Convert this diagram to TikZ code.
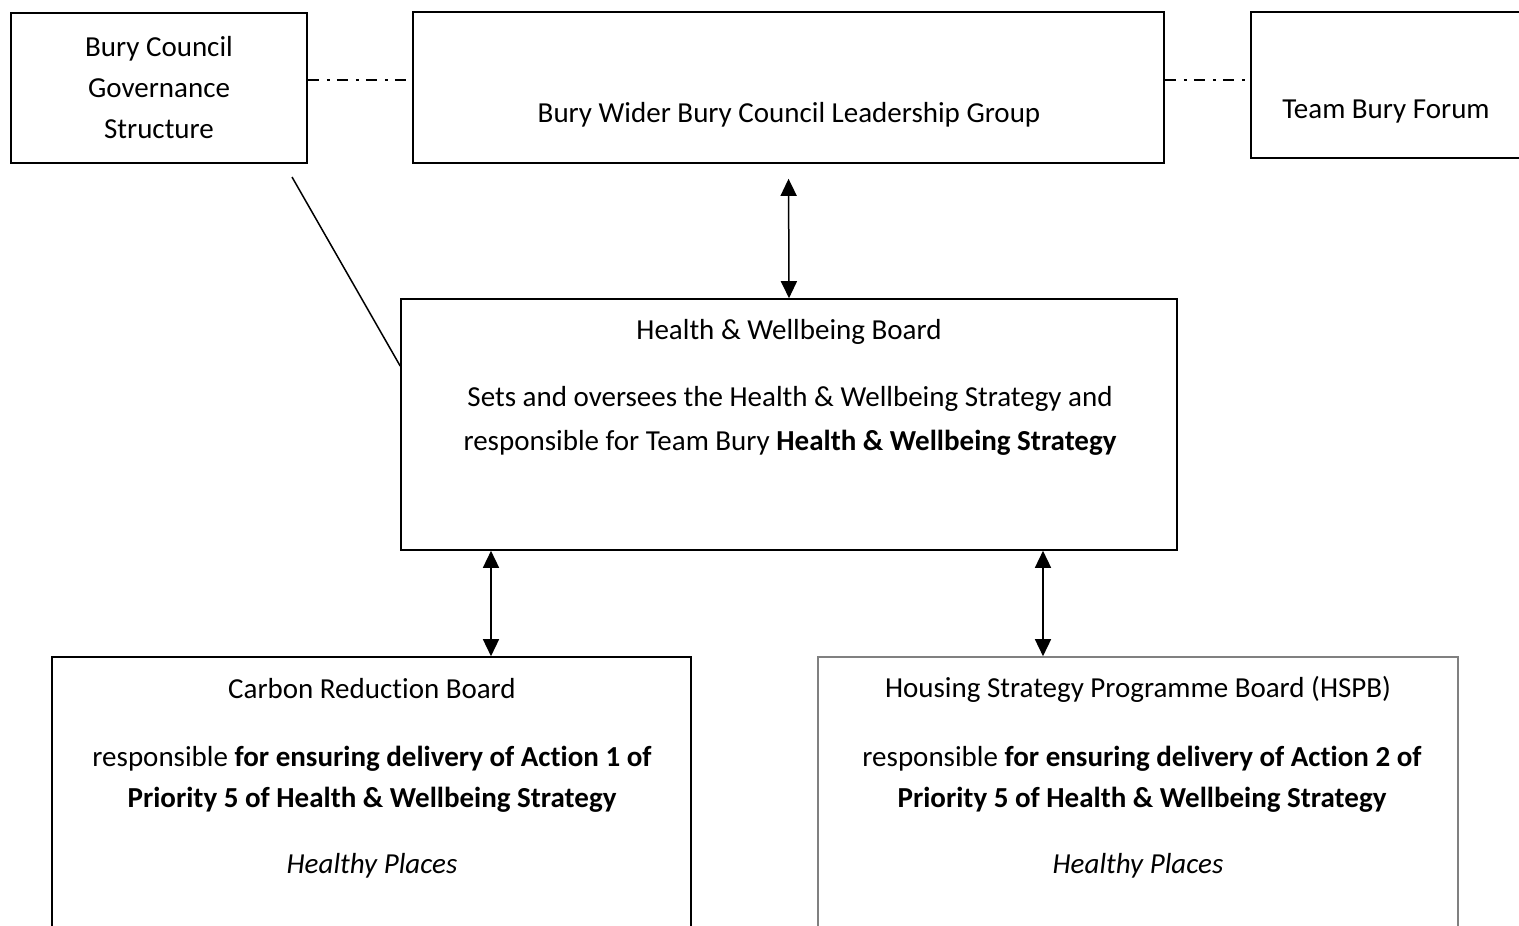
\documentclass[tikz,border=0pt]{standalone}
\usepackage{fontspec}
\setmainfont[Ligatures=NoCommon]{Carlito}
\usetikzlibrary{arrows.meta}

\tikzset{
  box/.style={draw, line width=1.6pt, inner sep=0pt},
  txt/.style={font=\fontsize{29}{41}\selectfont, align=center, inner sep=0pt},
  link/.style={line width=1.6pt, dash pattern=on 11pt off 8pt on 3pt off 7pt},
  both/.style={line width=1.5pt, {Triangle[length=17pt,width=16pt]}-{Triangle[length=17pt,width=16pt]}},
}

\begin{document}
\begin{tikzpicture}[x=1pt,y=-1pt]
    \clip (0,0) rectangle (1519,926);
    % top row
    \node[box, txt, minimum width=296pt, minimum height=150pt] (gov) at (159,88) {Bury Council\\Governance\\Structure};
    \node[box, minimum width=751pt, minimum height=151pt] (lead) at (788.5,87.5) {};
    \node[txt] (lead-txt) at (789,115) {Bury Wider Bury Council Leadership Group};
    \node[box, minimum width=300pt, minimum height=146pt] (team) at (1401,85) {};
    \node[txt] (team-txt) at (1386,112) {Team Bury Forum};
    \draw[link] (gov.east |- 0,80) -- (lead.west |- 0,80);
    \draw[link] (lead.east |- 0,80) -- (team.west |- 0,80);

    % board
    \node[box, minimum width=776pt, minimum height=251pt] (hwb) at (789,424.5) {};
    \node[txt] (hwb-title) at (789,332) {Health \& Wellbeing Board};
    \node[txt, font=\fontsize{29}{44}\selectfont] (hwb-body) at (790,421) {Sets and oversees the Health \& Wellbeing Strategy and\\responsible for Team Bury \textbf{Health \& Wellbeing Strategy}};
    \coordinate (gov-foot) at (292,177);
    \draw[line width=1.5pt] (gov-foot) -- (hwb.west |- 0,366);
    \draw[both, shorten <=15pt] (lead.south) -- (hwb.north);

    % sub boards
    \node[box, minimum width=639pt, minimum height=293pt] (carb) at (371.5,803.5) {};
    \node[txt] (carb-title) at (372,689) {Carbon Reduction Board};
    \node[txt] (carb-body) at (372,779) {responsible \textbf{for ensuring delivery of Action 1 of}\\\textbf{Priority 5 of Health \& Wellbeing Strategy}};
    \node[txt] (carb-tag) at (372,866) {\textit{Healthy Places}};

    \node[box, draw=black!50, minimum width=640pt, minimum height=293pt] (hspb) at (1138,803.5) {};
    \node[txt] (hspb-title) at (1138,689) {Housing Strategy Programme Board (HSPB)};
    \node[txt] (hspb-body) at (1142,779) {responsible \textbf{for ensuring delivery of Action 2 of}\\\textbf{Priority 5 of Health \& Wellbeing Strategy}};
    \node[txt] (hspb-tag) at (1138,866) {\textit{Healthy Places}};

    \draw[both] (hwb.south -| 491,0) -- (carb.north -| 491,0);
    \draw[both] (hwb.south -| 1043,0) -- (hspb.north -| 1043,0);
\end{tikzpicture}
\end{document}
